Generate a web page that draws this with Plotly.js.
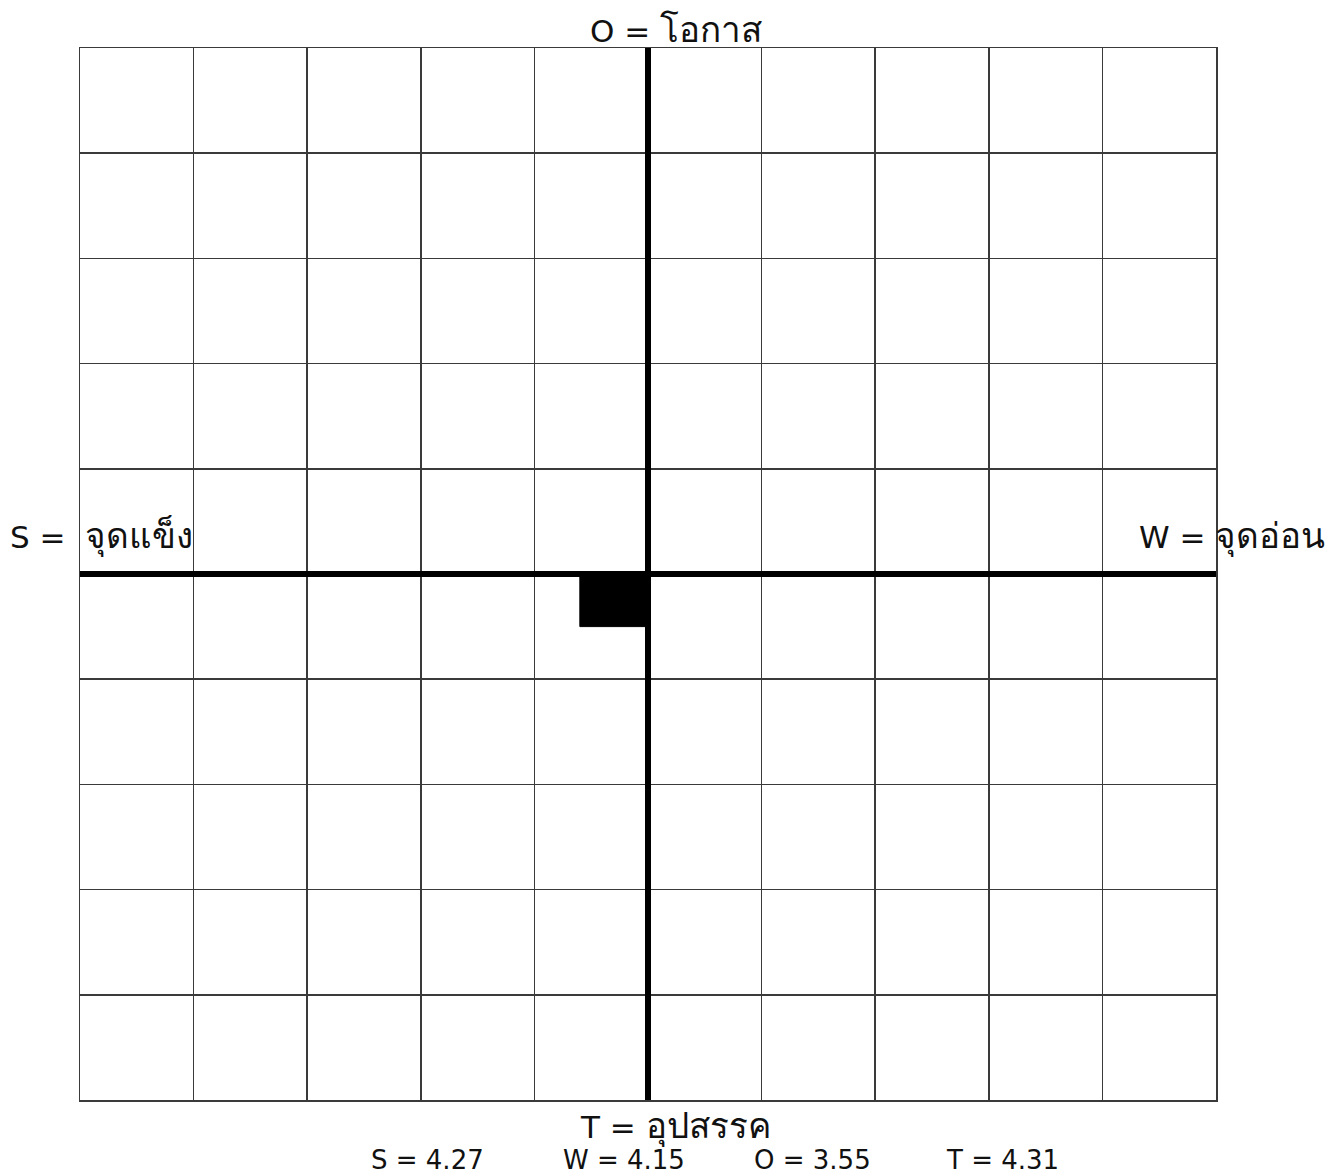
<!DOCTYPE html>
<html>
<head>
<meta charset="utf-8">
<script src="https://cdn.plot.ly/plotly-3.0.1.min.js"></script>
<style>html,body{margin:0;padding:0;background:#fff;}#chart{width:1329px;height:1176px;}</style>
</head>
<body>
<div id="chart"></div>
<script>
// SWOT labels
const factorCodes = ["S", "W", "O", "T"];
const factorNames = ["จุดแข็ง", "จุดอ่อน", "โอกาส", "อุปสรรค"];
const factorScores = [4.27, 4.15, 3.55, 4.31];
const blockX = [-0.6];
const blockY = [-0.5];
// grid extent
const gridRange = [-5, 5];

const W = 1329, H = 1176;
const L = 80, R = 1216, T = 48, B = 1100;
const px = x => (x - L) / (R - L);
const py = y => (B - y) / (B - T);

const bx = blockX[0], by = blockY[0];
const block = {
  type: 'scatter', mode: 'lines',
  x: [0, bx, bx, 0, 0], y: [0, 0, by, by, 0],
  fill: 'toself', fillcolor: '#000', line: {color: '#000', width: 1},
  hoverinfo: 'skip', showlegend: false
};

const FONT = 'DejaVu Sans, Tahoma, sans-serif';
const thai = s => '<span style="font-size:35px">' + s + '</span>';
const lab = (i, sep) => factorCodes[i] + (sep || ' = ') + thai(factorNames[i]);
const annotations = [
  {text: lab(2), x: px(676), y: py(52), xanchor: 'center', yanchor: 'bottom'},
  {text: lab(0, ' =  '), x: px(8), y: py(559), xanchor: 'left', yanchor: 'bottom'},
  {text: lab(1, ' = '), x: px(1327), y: py(559), xanchor: 'right', yanchor: 'bottom'},
  {text: lab(3), x: px(675), y: py(1104), xanchor: 'center', yanchor: 'top'},
].map(a => ({xref: 'paper', yref: 'paper', x: a.x, y: a.y, xanchor: a.xanchor, yanchor: a.yanchor,
  text: a.text, showarrow: false, font: {family: FONT, size: 31, color: '#111'}}));

const scoreX = [427, 624, 813, 1002];
factorCodes.forEach((c, i) => {
  annotations.push({xref: 'paper', yref: 'paper', x: px(scoreX[i]), y: py(1143), xanchor: 'center', yanchor: 'top',
    text: c + ' = ' + factorScores[i].toFixed(2), showarrow: false, font: {family: FONT, size: 26, color: '#111'}});
});

const axisBase = {
  range: gridRange, dtick: 1, tick0: 0, showgrid: true, gridcolor: '#3a3a3a', gridwidth: 1.5,
  zeroline: true, zerolinecolor: '#000', zerolinewidth: 6,
  showline: true, linecolor: '#3a3a3a', linewidth: 1.5, mirror: true,
  showticklabels: false, ticks: '', fixedrange: true
};

const layout = {
  width: W, height: H,
  margin: {l: L, r: W - R, t: T, b: H - B, pad: 0},
  paper_bgcolor: '#fff', plot_bgcolor: '#fff',
  xaxis: Object.assign({}, axisBase),
  yaxis: Object.assign({}, axisBase),
  showlegend: false,
  annotations: annotations
};

Plotly.newPlot('chart', [block], layout, {staticPlot: true, displayModeBar: false});
</script>
</body>
</html>
